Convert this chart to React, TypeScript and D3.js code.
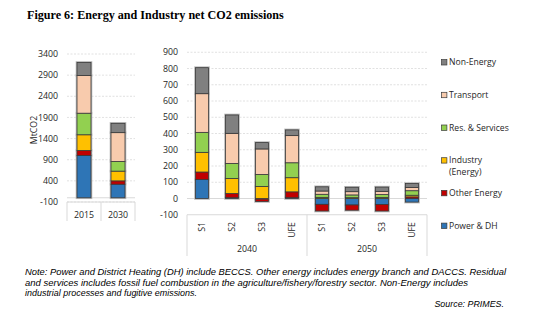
import React from "react";
import * as d3 from "d3";

// ---------- DATA ----------
const seriesNames = [
  "Power & DH",
  "Other Energy",
  "Industry (Energy)",
  "Res. & Services",
  "Transport",
  "Non-Energy",
];
const seriesColors = ["#2E75B6", "#C00000", "#FFC000", "#92D050", "#F8CBAD", "#808080"];

// left panel
const leftCategories = ["2015", "2030"];
const leftPowerDH = [1000, 320];
const leftOtherEnergy = [120, 80];
const leftIndustry = [370, 230];
const leftResServices = [510, 230];
const leftTransport = [890, 680];
const leftNonEnergy = [310, 220];
const leftTicks = [-100, 400, 900, 1400, 1900, 2400, 2900, 3400];

// right panel
const rightCategories = ["S1", "S2", "S3", "UFE", "S1", "S2", "S3", "UFE"];
const rightGroups = ["2040", "2050"];
const rightPowerDH = [117, 5, -4, 5, -36, -40, -37, -22];
const rightOtherEnergy = [46, 26, -14, 36, -41, -32, -40, 10];
const rightIndustry = [121, 92, 74, 87, 7, 5, 6, 10];
const rightResServices = [123, 93, 74, 92, 19, 17, 18, 28];
const rightTransport = [238, 185, 157, 167, 20, 20, 20, 20];
const rightNonEnergy = [160, 113, 39, 35, 26, 27, 26, 24];
const rightTicks = [-100, 0, 100, 200, 300, 400, 500, 600, 700, 800, 900];

const legendOrder = [5, 4, 3, 2, 1, 0];

const noteLines = [
  "Note: Power and District Heating (DH) include BECCS. Other energy includes energy branch and DACCS. Residual",
  "and services includes fossil fuel combustion in the agriculture/fishery/forestry sector. Non-Energy includes",
  "industrial processes and fugitive emissions.",
];
const noteLineWidths = [481, 443, 172];
const sourceText = "Source: PRIMES.";
const titleText = "Figure 6: Energy and Industry net CO2 emissions";

// ---------- HELPERS ----------
const FONT = "'Open Sans', 'Liberation Sans', sans-serif";
const NOTE_FONT = "'Liberation Sans', Arial, sans-serif";

function buildRows(cats: string[], cols: number[][]) {
  return cats.map((c, i) => {
    const r: any = { idx: i, cat: c };
    seriesNames.forEach((s, k) => (r[s] = cols[k][i]));
    return r;
  });
}

const stacker = d3
  .stack<any>()
  .keys(seriesNames)
  .offset(d3.stackOffsetDiverging);

function Bars({ rows, x, y, bw }: any) {
  const layers = stacker(rows);
  return (
    <g>
      {layers.map((layer, k) =>
        layer.map((d: any, i: number) => {
          const y0 = y(Math.max(d[0], d[1]));
          const y1 = y(Math.min(d[0], d[1]));
          if (Math.abs(y1 - y0) < 0.01) return null;
          return (
            <rect
              key={`h${k}-${i}`}
              x={x(String(i))! + (x.bandwidth() - bw) / 2}
              y={y0}
              width={bw}
              height={y1 - y0}
              fill="none"
              stroke="#b8b8b8"
              strokeWidth={2.6}
            />
          );
        })
      )}
      {layers.map((layer, k) =>
        layer.map((d: any, i: number) => {
          const y0 = y(Math.max(d[0], d[1]));
          const y1 = y(Math.min(d[0], d[1]));
          if (Math.abs(y1 - y0) < 0.01) return null;
          return (
            <rect
              key={`b${k}-${i}`}
              x={x(String(i))! + (x.bandwidth() - bw) / 2}
              y={y0}
              width={bw}
              height={y1 - y0}
              fill={seriesColors[k]}
              stroke="#3a3a3a"
              strokeWidth={0.8}
            />
          );
        })
      )}
    </g>
  );
}

export default function App() {
  // left panel scales
  const lx = d3
    .scaleBand()
    .domain(leftCategories.map((_, i) => String(i)))
    .range([67, 135]);
  const ly = d3.scaleLinear().domain([-100, 3400]).range([202, 54]);
  const leftRows = buildRows(leftCategories, [
    leftPowerDH,
    leftOtherEnergy,
    leftIndustry,
    leftResServices,
    leftTransport,
    leftNonEnergy,
  ]);

  // right panel scales
  const rx = d3
    .scaleBand()
    .domain(rightCategories.map((_, i) => String(i)))
    .range([187, 427]);
  const ry = d3.scaleLinear().domain([-100, 900]).range([214.75, 52.25]);
  const rightRows = buildRows(rightCategories, [
    rightPowerDH,
    rightOtherEnergy,
    rightIndustry,
    rightResServices,
    rightTransport,
    rightNonEnergy,
  ]);
  const perGroup = rightCategories.length / rightGroups.length;

  const gridColor = "#d9d9d9";
  const axisColor = "#d9d9d9";

  return (
    <svg
      width={536}
      height={332}
      style={{ position: "absolute", left: 0, top: 0, background: "#fff" }}
    >
      <rect x={0} y={0} width={536} height={332} fill="#fff" />
      {/* Title */}
      <text
        x={27}
        y={19}
        fontFamily="'Liberation Serif', 'Times New Roman', serif"
        fontWeight="bold"
        fontSize={12.1}
        fill="#000"
      >
        {titleText}
      </text>

      {/* ---------- LEFT PANEL ---------- */}
      {leftTicks.map((t) => (
        <g key={`lt${t}`}>
          <line
            x1={67}
            x2={135}
            y1={ly(t)}
            y2={ly(t)}
            stroke={gridColor}
            strokeDasharray="2,1.5"
            strokeWidth={0.8}
          />
          <text
            x={58}
            y={ly(t)}
            dy="0.35em"
            textAnchor="end"
            fontFamily={FONT}
            fontSize={8.8}
            fill="#262626"
          >
            {t}
          </text>
        </g>
      ))}
      <line x1={67} x2={135} y1={ly(0)} y2={ly(0)} stroke={axisColor} strokeWidth={1} />
      <line x1={67} x2={135} y1={ly(-100)} y2={ly(-100)} stroke={axisColor} strokeWidth={1} />
      {[0, 1, 2].map((i) => {
        const xx = i < 2 ? lx(String(i))! : 135;
        return (
          <line key={`lsep${i}`} x1={xx} x2={xx} y1={ly(-100)} y2={221} stroke={axisColor} strokeWidth={1} />
        );
      })}
      {leftCategories.map((c, i) => (
        <text
          key={`lc${i}`}
          x={lx(String(i))! + lx.bandwidth() / 2}
          y={215}
          dy="0.35em"
          textAnchor="middle"
          fontFamily={FONT}
          fontSize={8.8}
          fill="#262626"
        >
          {c}
        </text>
      ))}
      <text
        transform="translate(34,130) rotate(-90)"
        textAnchor="middle"
        dy="0.35em"
        fontFamily={FONT}
        fontSize={8.8}
        fill="#262626"
      >
        MtCO2
      </text>
      <Bars rows={leftRows} x={lx} y={ly} bw={14} />

      {/* ---------- RIGHT PANEL ---------- */}
      {rightTicks.map((t) => (
        <g key={`rt${t}`}>
          {t !== 0 && t !== -100 && (
            <line
              x1={187}
              x2={427}
              y1={ry(t)}
              y2={ry(t)}
              stroke={gridColor}
              strokeDasharray="2,1.5"
              strokeWidth={0.8}
            />
          )}
          <text
            x={178}
            y={ry(t)}
            dy="0.35em"
            textAnchor="end"
            fontFamily={FONT}
            fontSize={8.8}
            fill="#262626"
          >
            {t}
          </text>
        </g>
      ))}
      <line x1={187} x2={427} y1={ry(0)} y2={ry(0)} stroke={axisColor} strokeWidth={1} />
      <line x1={187} x2={427} y1={ry(-100)} y2={ry(-100)} stroke={axisColor} strokeWidth={1} />
      {[0, 1, 2].map((g) => {
        const xx = g < 2 ? rx(String(g * perGroup))! : 427;
        return (
          <line key={`rsep${g}`} x1={xx} x2={xx} y1={ry(-100)} y2={256} stroke={axisColor} strokeWidth={1} />
        );
      })}
      {rightCategories.map((c, i) => {
        const cx = rx(String(i))! + rx.bandwidth() / 2;
        return (
          <text
            key={`rc${i}`}
            transform={`translate(${cx},222) rotate(-90)`}
            textAnchor="end"
            dy="0.35em"
            fontFamily={FONT}
            fontSize={8.8}
            fill="#262626"
          >
            {c}
          </text>
        );
      })}
      {rightGroups.map((g, gi) => {
        const x0 = rx(String(gi * perGroup))!;
        const x1 = rx(String(gi * perGroup + perGroup - 1))! + rx.bandwidth();
        return (
          <text
            key={`rg${gi}`}
            x={(x0 + x1) / 2}
            y={248.5}
            dy="0.35em"
            textAnchor="middle"
            fontFamily={FONT}
            fontSize={8.8}
            fill="#262626"
          >
            {g}
          </text>
        );
      })}
      <Bars rows={rightRows} x={rx} y={ry} bw={13} />

      {/* ---------- LEGEND ---------- */}
      {legendOrder.map((k, j) => {
        const cy = 62.3 + j * 32.7;
        const name = seriesNames[k];
        const lines = name === "Industry (Energy)" ? ["Industry", "(Energy)"] : [name];
        return (
          <g key={`lg${k}`}>
            <rect
              x={441.5}
              y={cy - 2.7}
              width={5.4}
              height={5.4}
              fill={seriesColors[k]}
              stroke="#3a3a3a"
              strokeWidth={0.7}
            />
            {lines.map((ln, li) => (
              <text
                key={li}
                x={449}
                y={cy + li * 12}
                dy="0.35em"
                fontFamily={FONT}
                fontSize={8.6}
                fill="#262626"
              >
                {ln}
              </text>
            ))}
          </g>
        );
      })}

      {/* ---------- NOTE ---------- */}
      {noteLines.map((ln, i) => (
        <text
          key={`n${i}`}
          x={25}
          y={272.3 + i * 10.1}
          dy="0.35em"
          fontFamily={NOTE_FONT}
          fontStyle="italic"
          fontSize={8.9}
          textLength={noteLineWidths[i]}
          lengthAdjust="spacingAndGlyphs"
          fill="#000"
        >
          {ln}
        </text>
      ))}
      <text
        x={504}
        y={303.4}
        dy="0.35em"
        textAnchor="end"
        fontFamily={NOTE_FONT}
        fontStyle="italic"
        fontSize={8.9}
        fill="#000"
      >
        {sourceText}
      </text>
    </svg>
  );
}
